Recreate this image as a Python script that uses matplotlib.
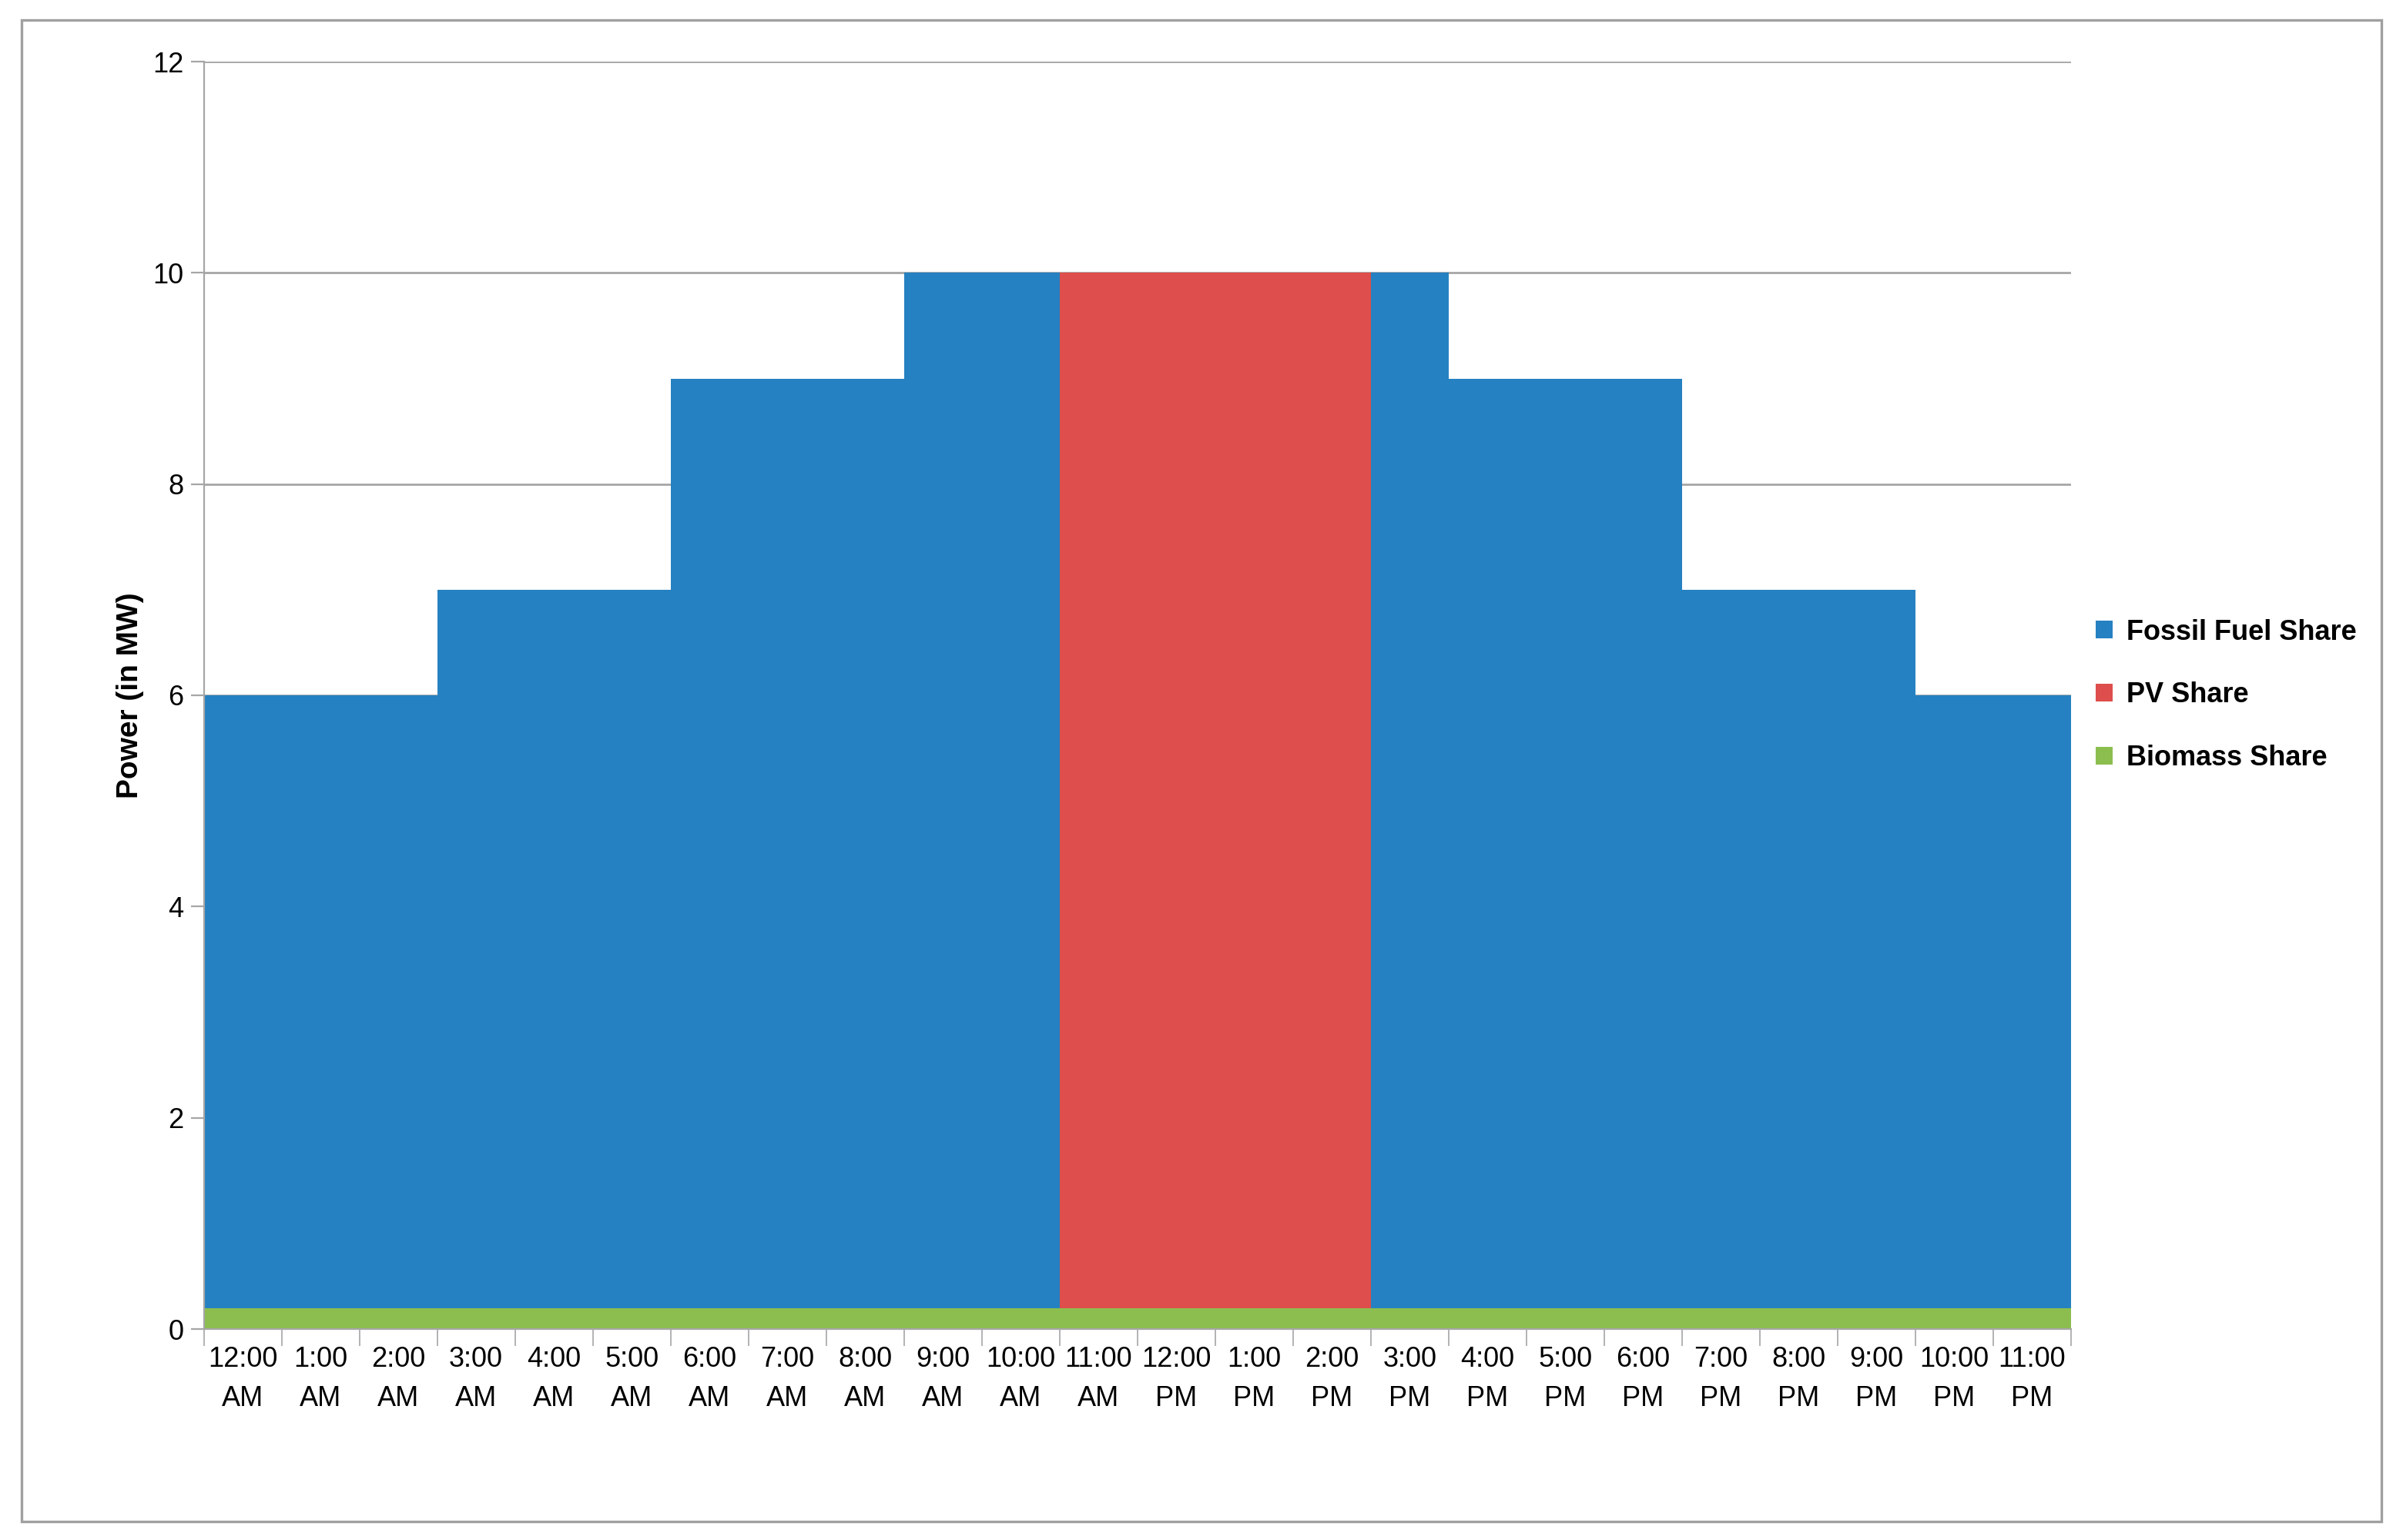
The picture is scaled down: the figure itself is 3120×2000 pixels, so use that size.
import matplotlib
matplotlib.use('Agg')
import matplotlib.pyplot as plt
from matplotlib.patches import Rectangle
import numpy as np

hours = ['12:00\nAM', '1:00\nAM', '2:00\nAM', '3:00\nAM', '4:00\nAM', '5:00\nAM',
         '6:00\nAM', '7:00\nAM', '8:00\nAM', '9:00\nAM', '10:00\nAM', '11:00\nAM',
         '12:00\nPM', '1:00\nPM', '2:00\nPM', '3:00\nPM', '4:00\nPM', '5:00\nPM',
         '6:00\nPM', '7:00\nPM', '8:00\nPM', '9:00\nPM', '10:00\nPM', '11:00\nPM']
biomass = [0.2] * 24
pv = [0, 0, 0, 0, 0, 0, 0, 0, 0, 0, 0, 9.8, 9.8, 9.8, 9.8, 0, 0, 0, 0, 0, 0, 0, 0, 0]
fossil = [5.8, 5.8, 5.8, 6.8, 6.8, 6.8, 8.8, 8.8, 8.8, 9.8, 9.8, 0, 0, 0, 0,
          9.8, 8.8, 8.8, 8.8, 6.8, 6.8, 6.8, 5.8, 5.8]

plt.rcParams['font.family'] = ['Liberation Sans', 'DejaVu Sans']
fig = plt.figure(figsize=(15.6, 10), dpi=200)
fig.patches.append(Rectangle((0.009, 0.012), 0.982, 0.975, transform=fig.transFigure,
                             fill=False, edgecolor='#A0A0A0', linewidth=1.2))
ax = fig.add_axes([0.0848, 0.137, 0.777, 0.823])

x = np.arange(24)
b = np.array(biomass)
p = np.array(pv)
f = np.array(fossil)
ax.bar(x, b, width=1.0, align='edge', color='#8CBE4F', label='Biomass Share', linewidth=0)
ax.bar(x, p, width=1.0, align='edge', bottom=b, color='#DE4E4C', label='PV Share', linewidth=0)
ax.bar(x, f, width=1.0, align='edge', bottom=b + p, color='#2581C1', label='Fossil Fuel Share', linewidth=0)

ax.set_xlim(0, 24)
ax.set_ylim(0, 12)
ax.set_yticks(range(0, 13, 2))
ax.yaxis.grid(True, color='#A6A6A6', linewidth=1)
ax.set_axisbelow(True)
ax.set_xticks(np.arange(24) + 0.5)
ax.set_xticklabels(hours, fontsize=13, linespacing=1.6)
ax.set_xticks(np.arange(25), minor=True)
ax.tick_params(axis='x', which='major', length=0, pad=8)
ax.tick_params(axis='x', which='minor', length=8, color='#A6A6A6')
ax.tick_params(axis='y', labelsize=13, length=6, color='#A6A6A6')
for s in ['top', 'right']:
    ax.spines[s].set_visible(False)
for s in ['left', 'bottom']:
    ax.spines[s].set_color('#A6A6A6')
ax.set_ylabel('Power (in MW)', fontsize=14, fontweight='bold')

h, l = ax.get_legend_handles_labels()
ax.legend(h[::-1], l[::-1], loc='center left', bbox_to_anchor=(1.0, 0.5), frameon=False,
          prop={'size': 13, 'weight': 'bold'}, handlelength=0.6, handleheight=0.6,
          handletextpad=0.5, labelspacing=1.3)

fig.savefig('out.png', dpi=200)
